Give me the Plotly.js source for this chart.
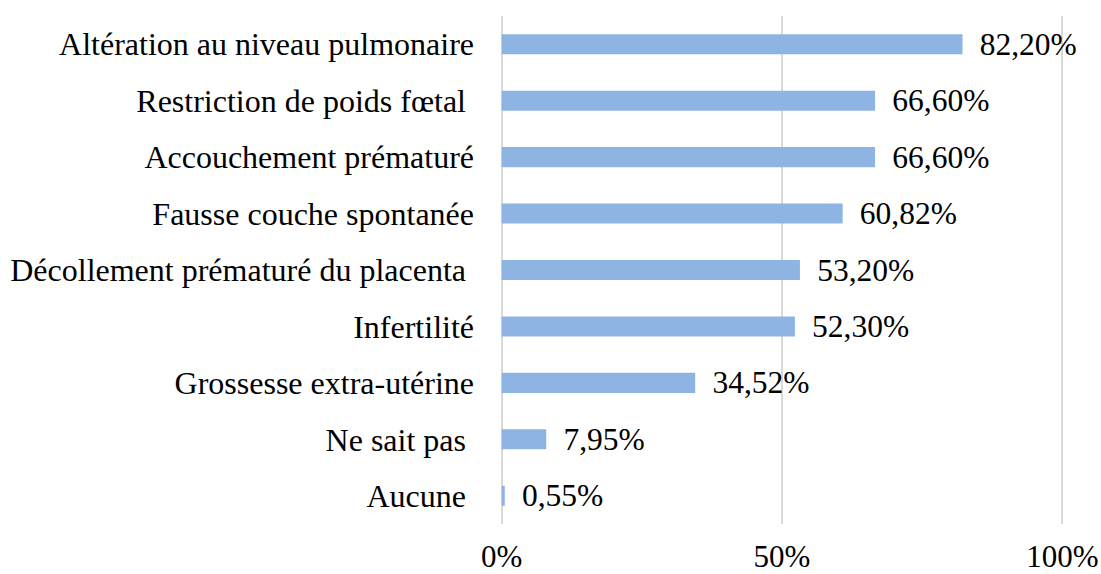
<!DOCTYPE html>
<html>
<head>
<meta charset="utf-8">
<script src="https://cdn.plot.ly/plotly-3.0.1.min.js"></script>
<style>
  html, body { margin: 0; padding: 0; background: #fff; }
  #plot { width: 1101px; height: 574px; }
</style>
</head>
<body>
<div id="plot"></div>
<script>
// categories, top to bottom
var categories = [
  'Altération au niveau pulmonaire',
  'Restriction de poids fœtal\u00A0',
  'Accouchement prématuré',
  'Fausse couche spontanée',
  'Décollement prématuré du placenta\u00A0',
  'Infertilité',
  'Grossesse extra-utérine',
  'Ne sait pas\u00A0',
  'Aucune\u00A0'
];

// percentages
var values = [82.20, 66.60, 66.60, 60.82, 53.20, 52.30, 34.52, 7.95, 0.55];

var tickVals = [0, 50, 100];
var tickText = ['0%', '50%', '100%'];

// labels with french decimal comma
var labels = values.map(function (v) {
  return '\u00A0\u2009' + v.toFixed(2).replace('.', ',') + '%';
});

var serif = 'Liberation Serif, Times New Roman, serif';

var bars = {
  type: 'bar',
  orientation: 'h',
  x: values,
  y: categories,
  text: labels,
  textposition: 'outside',
  constraintext: 'none',
  cliponaxis: false,
  textfont: { family: serif, size: 31.5, color: '#000' },
  marker: { color: '#8eb4e3', line: { width: 0 } },
  hoverinfo: 'x+y'
};

var layout = {
  width: 1101,
  height: 574,
  margin: { l: 500, r: 37, t: 16, b: 50 },
  paper_bgcolor: '#fff',
  plot_bgcolor: '#fff',
  bargap: 0.645,
  showlegend: false,
  font: { family: serif, size: 31, color: '#000' },
  xaxis: {
    range: [-0.3, 100.3],
    tickvals: tickVals,
    ticktext: tickText,
    showgrid: true,
    gridcolor: '#d9d9d9',
    gridwidth: 2,
    zeroline: false,
    showline: false,
    ticks: '',
    ticklabelstandoff: 11,
    tickfont: { family: serif, size: 31, color: '#000' }
  },
  yaxis: {
    autorange: 'reversed',
    showgrid: false,
    zeroline: false,
    showline: false,
    ticks: '',
    ticklabelstandoff: 25,
    tickfont: { family: serif, size: 32, color: '#000' }
  }
};

Plotly.newPlot('plot', [bars], layout, { displayModeBar: false, staticPlot: true });
</script>
</body>
</html>
